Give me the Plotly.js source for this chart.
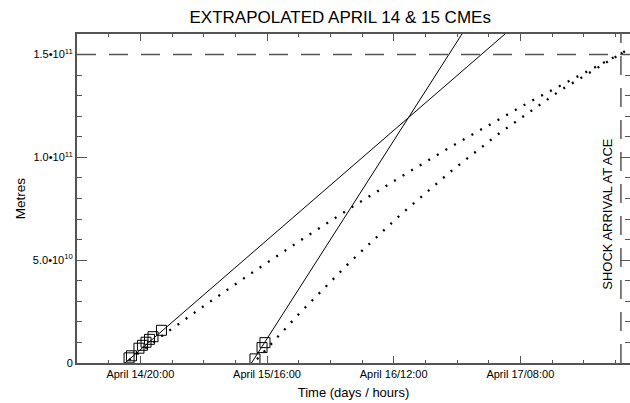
<!DOCTYPE html>
<html>
<head>
<meta charset="utf-8">
<script src="https://cdn.plot.ly/plotly-3.0.1.min.js"></script>
<style>html,body{margin:0;padding:0;background:#fff;}#chart{width:630px;height:403px;}</style>
</head>
<body>
<div id="chart"></div>
<script>
// Measured heights (squares)
const cme1Times = ['2002-04-14 18:13','2002-04-14 18:36','2002-04-14 19:47','2002-04-14 20:20','2002-04-14 20:54','2002-04-14 21:27','2002-04-14 22:00','2002-04-14 23:20'];
const cme1Heights = [2.5e9, 3.5e9, 7.2e9, 8.6e9, 1.01e10, 1.15e10, 1.28e10, 1.59e10];
const cme2Times = ['2002-04-15 14:06','2002-04-15 15:13','2002-04-15 15:41'];
const cme2Heights = [2.0e9, 7.5e9, 9.9e9];

// Linear extrapolations (solid)
const cme1FitTimes = ['2002-04-14 17:35','2002-04-17 05:35'];
const cme1FitHeights = [0, 1.6e11];
const cme2FitTimes = ['2002-04-15 13:33','2002-04-16 22:47'];
const cme2FitHeights = [0, 1.6e11];

// Decelerating extrapolations (dotted)
const cme1CurveTimes = ['2002-04-14 18:13','2002-04-14 23:53','2002-04-15 06:22','2002-04-15 13:19','2002-04-15 21:13','2002-04-16 05:25','2002-04-16 13:00','2002-04-16 20:54','2002-04-17 09:32','2002-04-17 23:44','2002-04-18 00:41'];
const cme1CurveHeights = [1.41e9, 1.426e10, 2.843e10, 4.323e10, 5.949e10, 7.58e10, 9.031e10, 1.0492e11, 1.2707e11, 1.503e11, 1.518e11];
const cme2CurveTimes = ['2002-04-15 14:25','2002-04-15 18:03','2002-04-15 21:13','2002-04-16 05:06','2002-04-16 13:00','2002-04-16 20:53','2002-04-17 04:47','2002-04-17 14:16','2002-04-17 23:44','2002-04-18 00:41'];
const cme2CurveHeights = [1.8e9, 1.407e10, 2.444e10, 4.907e10, 7.186e10, 9.284e10, 1.1195e11, 1.3247e11, 1.5034e11, 1.5194e11];

// Reference markers
const shockTime = '2002-04-17 23:53';
const aceDistance = 1.5e11;
const xRange = ['2002-04-14 10:00','2002-04-18 01:19'];
const yRange = [0, 1.6e11];

// Tick labels
const xTickVals = ['2002-04-14 20:00','2002-04-15 16:00','2002-04-16 12:00','2002-04-17 08:00'];
const xTickText = ['April 14/20:00','April 15/16:00','April 16/12:00','April 17/08:00'];
const yTickVals = [0, 5e10, 1e11, 1.5e11];
const yTickText = ['0','5.0•10<sup>10</sup>','1.0•10<sup>11</sup>','1.5•10<sup>11</sup>'];

const FONT = 'Liberation Sans, Arial, sans-serif';
const AX = '#555555';
const DASH = '19px,13px';

const traces = [
  {x: cme1CurveTimes, y: cme1CurveHeights, mode: 'lines', line: {color: '#000', width: 2.3, dash: '2px,8px'}, hoverinfo: 'skip'},
  {x: cme2CurveTimes, y: cme2CurveHeights, mode: 'lines', line: {color: '#000', width: 2.3, dash: '2px,8px'}, hoverinfo: 'skip'},
  {x: cme1FitTimes, y: cme1FitHeights, mode: 'lines', line: {color: '#000', width: 1}},
  {x: cme2FitTimes, y: cme2FitHeights, mode: 'lines', line: {color: '#000', width: 1}},
  {x: cme1Times, y: cme1Heights, mode: 'markers', marker: {symbol: 'square-open', size: 10, color: '#000', line: {width: 1, color: '#000'}}},
  {x: cme2Times, y: cme2Heights, mode: 'markers', marker: {symbol: 'square-open', size: 10, color: '#000', line: {width: 1, color: '#000'}}}
];

const layout = {
  width: 630, height: 403,
  margin: {l: 77, r: 0, t: 34, b: 40},
  paper_bgcolor: '#fff', plot_bgcolor: '#fff',
  showlegend: false,
  font: {family: FONT, color: '#000', size: 11},
  title: {text: 'EXTRAPOLATED APRIL 14 &amp; 15 CMEs', x: 0.54, xanchor: 'center', y: 0.972, yanchor: 'top', font: {family: FONT, size: 17, color: '#000'}},
  xaxis: {
    type: 'date', range: xRange, showgrid: false, zeroline: false,
    showline: true, linecolor: AX, linewidth: 2, mirror: 'ticks',
    ticks: 'inside', ticklen: 7, tickwidth: 1, tickcolor: AX,
    tickmode: 'array', tickvals: xTickVals, ticktext: xTickText,
    tickfont: {family: FONT, size: 11, color: '#000'},
    minor: {tickmode: 'linear', tick0: '2002-04-14 10:00', dtick: 18000000, ticks: 'inside', ticklen: 3, tickcolor: AX, showgrid: false},
    title: {text: 'Time (days / hours)', font: {family: FONT, size: 13, color: '#000'}, standoff: 9}
  },
  yaxis: {
    range: yRange, showgrid: false, zeroline: false,
    showline: true, linecolor: AX, linewidth: 2, mirror: 'ticks',
    ticks: 'inside', ticklen: 10, tickwidth: 1, tickcolor: AX,
    tickmode: 'array', tickvals: yTickVals, ticktext: yTickText,
    tickfont: {family: FONT, size: 11, color: '#000'},
    minor: {tickmode: 'linear', tick0: 0, dtick: 1e10, ticks: 'inside', ticklen: 5, tickcolor: AX, showgrid: false},
    title: {text: 'Metres', font: {family: FONT, size: 13.5, color: '#000'}, standoff: 4}
  },
  shapes: [
    {type: 'line', xref: 'paper', x0: 0, x1: 1, yref: 'y', y0: aceDistance, y1: aceDistance, line: {color: AX, width: 1.5, dash: DASH}},
    {type: 'line', xref: 'x', x0: shockTime, x1: shockTime, yref: 'paper', y0: 0, y1: 1, line: {color: AX, width: 1.5, dash: DASH}}
  ],
  annotations: [
    {xref: 'x', x: shockTime, xanchor: 'right', xshift: -4, yref: 'paper', y: 0.455, yanchor: 'middle', textangle: -90, text: 'SHOCK ARRIVAL AT ACE', showarrow: false, font: {family: FONT, size: 13, color: '#000'}}
  ]
};

Plotly.newPlot('chart', traces, layout, {displayModeBar: false, staticPlot: true});
</script>
</body>
</html>
